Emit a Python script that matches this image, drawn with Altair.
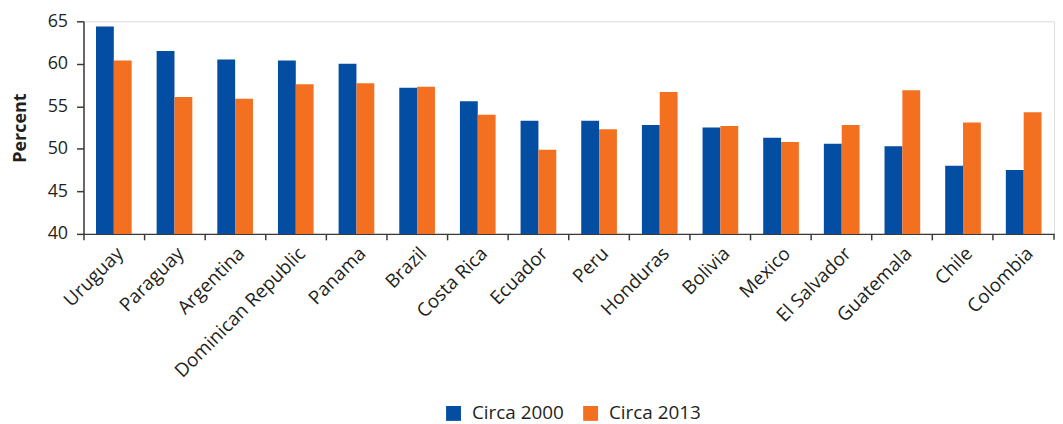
import altair as alt
import pandas as pd

countries = ["Uruguay", "Paraguay", "Argentina", "Dominican Republic", "Panama",
             "Brazil", "Costa Rica", "Ecuador", "Peru", "Honduras", "Bolivia",
             "Mexico", "El Salvador", "Guatemala", "Chile", "Colombia"]
circa_2000 = [64.4, 61.5, 60.5, 60.4, 60.0, 57.2, 55.6, 53.3, 53.3, 52.8, 52.5,
              51.3, 50.6, 50.3, 48.0, 47.5]
circa_2013 = [60.4, 56.1, 55.9, 57.6, 57.7, 57.3, 54.0, 49.9, 52.3, 56.7, 52.7,
              50.8, 52.8, 56.9, 53.1, 54.3]
series = ["Circa 2000", "Circa 2013"]
colors = ["#034EA2", "#F37021"]
y_ticks = [40, 45, 50, 55, 60, 65]

rows = []
for c, a, b in zip(countries, circa_2000, circa_2013):
    rows.append({"country": c, "series": series[0], "value": a})
    rows.append({"country": c, "series": series[1], "value": b})
df = pd.DataFrame(rows)

W, H = 977, 214
FONT = "Open Sans"
TXT = "#231F20"
AX = "#3a3a3a"

bars = alt.Chart(df).mark_bar(clip=True).encode(
    x=alt.X("country:N", sort=countries,
            scale=alt.Scale(paddingInner=0, paddingOuter=0),
            axis=alt.Axis(title=None, labelAngle=-45, labelAlign="right",
                          labelBaseline="top", bandPosition=0, labelLimit=400,
                          tickSize=6, labelFontSize=19, labelPadding=4,
                          domainColor=AX, tickColor=AX, domainWidth=1.5, tickWidth=1.5)),
    xOffset=alt.XOffset("series:N", sort=series,
                        scale=alt.Scale(paddingInner=0, paddingOuter=0.7)),
    y=alt.Y("value:Q", scale=alt.Scale(domain=[40, 65], nice=False, zero=False),
            axis=alt.Axis(values=y_ticks, title="Percent", grid=False, tickSize=7,
                          labelFontSize=18, labelPadding=9, titleFontSize=18,
                          titleFontWeight="bold", titlePadding=18,
                          domainColor=AX, tickColor=AX, domainWidth=1.5, tickWidth=1.5)),
    color=alt.Color("series:N", sort=series,
                    scale=alt.Scale(domain=series, range=colors),
                    legend=alt.Legend(title=None, orient="none", direction="horizontal",
                                      legendX=363, legendY=385, symbolType="square",
                                      symbolSize=225, symbolStrokeWidth=0,
                                      labelFontSize=19, labelOffset=9, columnPadding=17,
                                      padding=0, symbolOpacity=1)),
)

end_tick = alt.Chart(pd.DataFrame({"a": [0]})).mark_rule(color=AX, strokeWidth=1.5).encode(
    x=alt.value(W), y=alt.value(H), y2=alt.value(H + 6))

chart = alt.layer(bars, end_tick).properties(
    width=W, height=H,
    autosize=alt.AutoSizeParams(type="none"),
    padding={"left": 76, "top": 12, "right": 1, "bottom": 190}
).configure_view(stroke=None).configure(
    font=FONT
).configure_axis(
    labelColor=TXT, titleColor=TXT, labelFont=FONT, titleFont=FONT
).configure_legend(labelColor=TXT, labelFont=FONT)

chart.save("out.html", embed_options={"renderer": "svg", "actions": False})
